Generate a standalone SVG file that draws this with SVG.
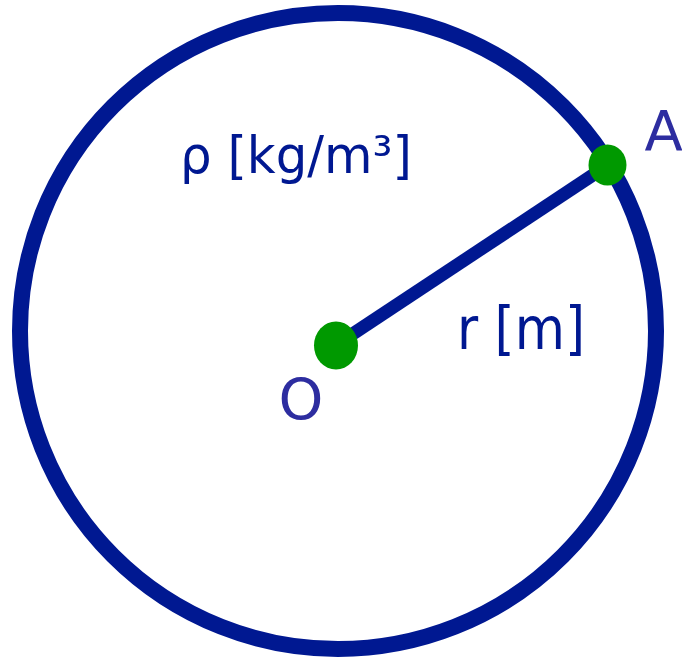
<svg xmlns="http://www.w3.org/2000/svg" width="682" height="661" viewBox="0 0 682 661">
  <style>
    .outline { fill: none; stroke: #001891; stroke-width: 16; }
    .radius { stroke: #001891; stroke-width: 13; }
    .point { fill: #009900; }
    .qty { fill: #001891; font-family: "DejaVu Sans", Verdana, sans-serif; }
    .lbl { fill: #2d2da0; font-family: "DejaVu Sans", Verdana, sans-serif; }
  </style>
  <rect width="682" height="661" fill="#ffffff"/>
  <g id="sphere">
    <circle class="outline" cx="338" cy="331" r="318"/>
  </g>
  <g id="connectors">
    <line class="radius" x1="336" y1="345" x2="608" y2="165"/>
  </g>
  <g id="point-O">
    <ellipse class="point" cx="336" cy="345.5" rx="22" ry="24"/>
    <text class="lbl" x="278.5" y="419.5" font-size="57">O</text>
  </g>
  <g id="point-A">
    <ellipse class="point" cx="607.5" cy="165" rx="19" ry="20.5"/>
    <text class="lbl" x="644.5" y="150" font-size="56">A</text>
  </g>
  <g id="density-label">
    <text class="qty" x="180" y="173" font-size="52" textLength="232" lengthAdjust="spacingAndGlyphs">ρ [kg/m³]</text>
  </g>
  <g id="radius-label">
    <text class="qty" x="457" y="349" font-size="58" textLength="128" lengthAdjust="spacingAndGlyphs">r [m]</text>
  </g>
</svg>
